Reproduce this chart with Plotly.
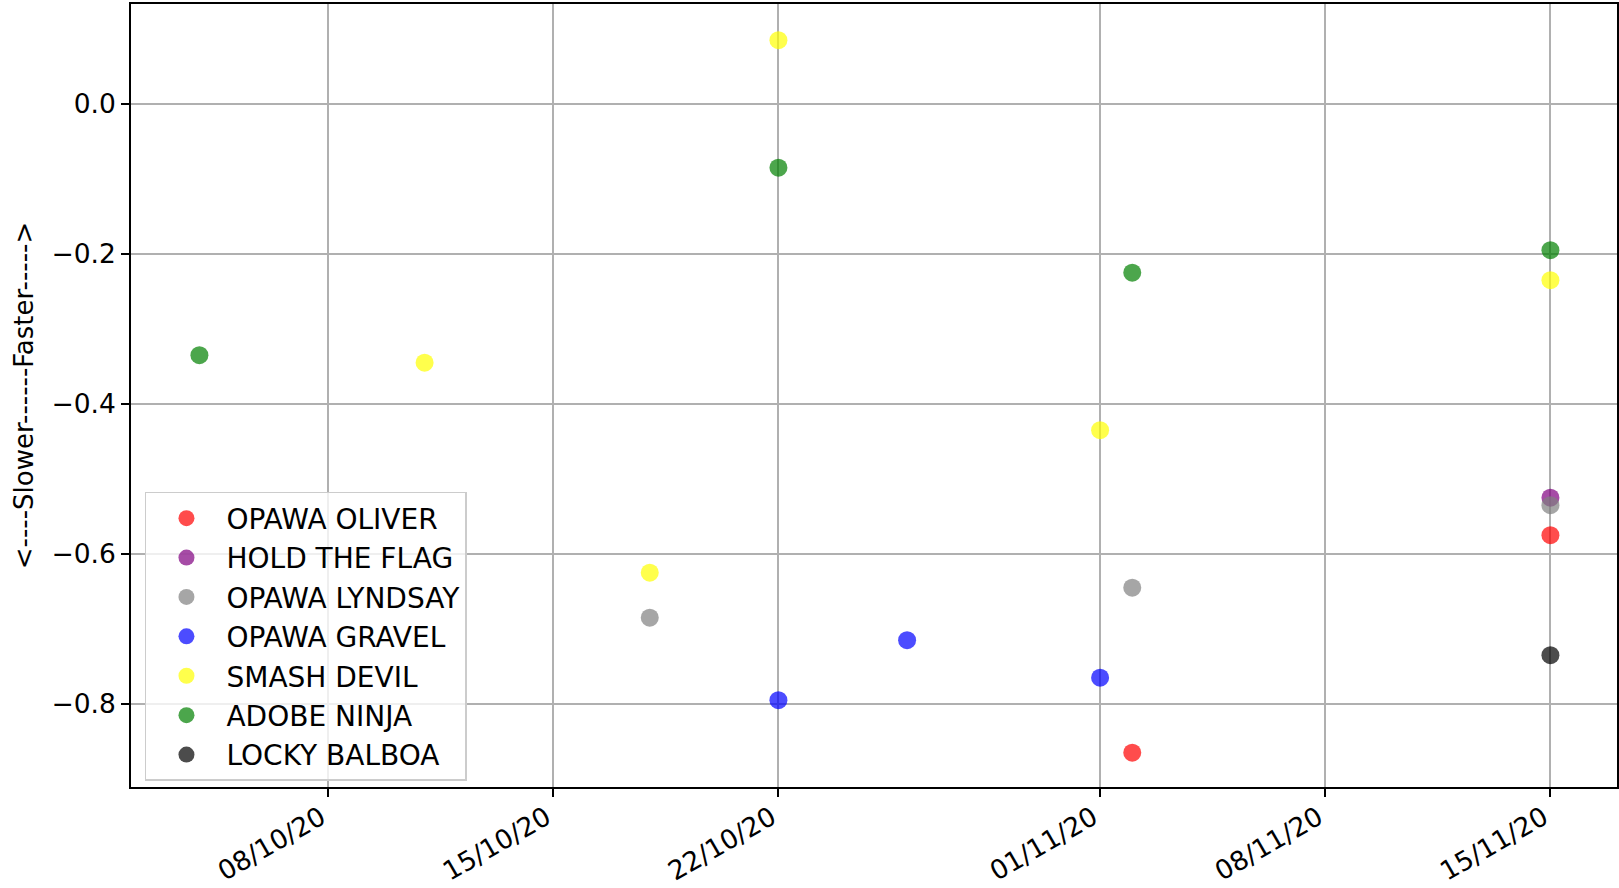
import plotly.graph_objects as go

names = ["OPAWA OLIVER", "HOLD THE FLAG", "OPAWA LYNDSAY", "OPAWA GRAVEL",
         "SMASH DEVIL", "ADOBE NINJA", "LOCKY BALBOA"]
colors = ["red", "purple", "gray", "blue", "yellow", "green", "black"]

oliver_dates = ["2020-11-02", "2020-11-15"]
oliver_vals = [-0.865, -0.575]
flag_dates = ["2020-11-15"]
flag_vals = [-0.525]
lyndsay_dates = ["2020-10-18", "2020-11-02", "2020-11-15"]
lyndsay_vals = [-0.685, -0.645, -0.535]
gravel_dates = ["2020-10-22", "2020-10-26", "2020-11-01"]
gravel_vals = [-0.795, -0.715, -0.765]
smash_dates = ["2020-10-11", "2020-10-18", "2020-10-22", "2020-11-01", "2020-11-15"]
smash_vals = [-0.345, -0.625, 0.085, -0.435, -0.235]
ninja_dates = ["2020-10-04", "2020-10-22", "2020-11-02", "2020-11-15"]
ninja_vals = [-0.335, -0.085, -0.225, -0.195]
locky_dates = ["2020-11-15"]
locky_vals = [-0.735]

series = [
    (oliver_dates, oliver_vals),
    (flag_dates, flag_vals),
    (lyndsay_dates, lyndsay_vals),
    (gravel_dates, gravel_vals),
    (smash_dates, smash_vals),
    (ninja_dates, ninja_vals),
    (locky_dates, locky_vals),
]

tick_dates = ["2020-10-08", "2020-10-15", "2020-10-22", "2020-11-01", "2020-11-08", "2020-11-15"]
tick_labels = ["08/10/20", "15/10/20", "22/10/20", "01/11/20", "08/11/20", "15/11/20"]
y_ticks = [0.0, -0.2, -0.4, -0.6, -0.8]

FONT = "DejaVu Sans"
FS = 26.5

fig = go.Figure()
for name, color, (d, v) in zip(names, colors, series):
    fig.add_trace(go.Scatter(
        x=d, y=v, mode="markers", name=name, legendgroup=name,
        marker=dict(color=color, size=18, opacity=0.7, line=dict(width=0)),
    ))

fig.update_layout(
    width=1619, height=888,
    margin=dict(l=131, r=2, t=4, b=101, autoexpand=False),
    paper_bgcolor="white", plot_bgcolor="white",
    font=dict(family=FONT, size=FS, color="black"),
    showlegend=True,
    legend=dict(
        x=0.0094, y=0.3768, xanchor="left", yanchor="top",
        bgcolor="rgba(255,255,255,0.8)", bordercolor="#cccccc", borderwidth=1.5,
        font=dict(family=FONT, size=28, color="black"),
        tracegroupgap=0, traceorder="grouped", itemwidth=70,
    ),
)

fig.update_xaxes(
    type="date",
    range=["2020-10-01 20:57", "2020-11-17 01:40"],
    tickvals=tick_dates, ticktext=tick_labels, tickangle=-30,
    showgrid=True, gridcolor="#b0b0b0", gridwidth=1.5,
    showline=True, linecolor="black", linewidth=1.6, mirror=True,
    ticks="outside", ticklen=8, tickwidth=1.6, tickcolor="black",
    zeroline=False, ticklabelshift=-7, ticklabelstandoff=-5,
    tickfont=dict(family=FONT, size=FS, color="black"),
)
fig.update_yaxes(
    range=[-0.9107, 0.1333],
    tickvals=y_ticks, tickformat=".1f",
    showgrid=True, gridcolor="#b0b0b0", gridwidth=1.5,
    showline=True, linecolor="black", linewidth=1.6, mirror=True,
    ticks="outside", ticklen=8, tickwidth=1.6, tickcolor="black",
    zeroline=False, ticklabelstandoff=0,
    tickfont=dict(family=FONT, size=FS, color="black"),
    title=dict(text="<----Slower------Faster----->", standoff=10,
               font=dict(family=FONT, size=26, color="black")),
)

fig.write_html("out.html", config={"displayModeBar": False},
               post_script="document.body.style.margin='0';")
